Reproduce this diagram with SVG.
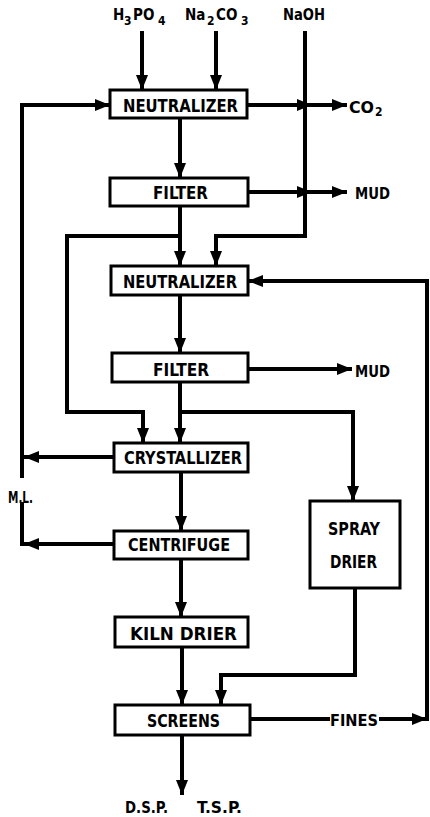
<svg xmlns="http://www.w3.org/2000/svg" width="430" height="817" viewBox="0 0 430 817">
<style>
.box{fill:#fff;stroke:#000;stroke-width:3}
.ln{fill:none;stroke:#000;stroke-width:4;stroke-linejoin:miter;stroke-linecap:butt}
.arr{marker-end:url(#ah)}
.t{font-family:"DejaVu Sans Condensed","DejaVu Sans",sans-serif;font-weight:bold;font-size:18px;fill:#000}
.s{font-family:"DejaVu Sans Condensed","DejaVu Sans",sans-serif;font-weight:bold;font-size:15px;fill:#000}
.sub{font-size:12px}
</style>
<defs>
<marker id="ah" markerUnits="userSpaceOnUse" markerWidth="16" markerHeight="14" refX="15" refY="6" orient="auto" viewBox="0 0 16 12">
<path d="M0,0 L15,6 L0,12 Z" fill="#000"/>
</marker>
</defs>
<g id="connectors">
<path class="ln arr" d="M142,31 L142,90"/>
<path class="ln arr" d="M216,31 L216,90"/>
<path class="ln arr" d="M305,31 L305,236 L216,236 L216,266"/>
<path class="ln arr" d="M247,105 L312,105"/>
<path class="ln arr" d="M312,105 L347,105"/>
<path class="ln arr" d="M180,118 L180,178"/>
<path class="ln arr" d="M248,192 L312,192"/>
<path class="ln arr" d="M312,192 L347,192"/>
<path class="ln arr" d="M180,206 L180,266"/>
<path class="ln arr" d="M180,236 L67,236 L67,412 L143,412 L143,443"/>
<path class="ln arr" d="M180,295 L180,353"/>
<path class="ln arr" d="M248,369 L352,369"/>
<path class="ln arr" d="M180,382 L180,443"/>
<path class="ln arr" d="M180,412 L353,412 L353,501"/>
<path class="ln arr" d="M114,457 L24,457"/>
<path class="ln arr" d="M22,478 L22,105 L110,105"/>
<path class="ln arr" d="M114,544 L24,544"/>
<path class="ln" d="M22,546 L22,502"/>
<path class="ln arr" d="M181,472 L181,531"/>
<path class="ln arr" d="M181,559 L181,617"/>
<path class="ln arr" d="M182,647 L182,705"/>
<path class="ln arr" d="M355,588 L355,675 L221,675 L221,705"/>
<path class="ln arr" d="M182,735 L182,795"/>
<path class="ln" d="M250,719 L330,719"/>
<path class="ln arr" d="M379,719 L427,719"/>
<path class="ln arr" d="M427,721 L427,281 L248,281"/>
</g>
<g id="feed-labels">
<text class="s" y="20"><tspan x="113">H</tspan><tspan class="sub" x="124" y="25">3</tspan><tspan x="133" y="20">PO</tspan><tspan class="sub" x="158" y="25">4</tspan></text>
<text class="s" y="20"><tspan x="185">Na</tspan><tspan class="sub" x="207" y="25">2</tspan><tspan x="216" y="20">CO</tspan><tspan class="sub" x="241" y="25">3</tspan></text>
<text class="s" x="283" y="20" textLength="42" lengthAdjust="spacingAndGlyphs">NaOH</text>
<text class="s" y="113"><tspan x="349" textLength="25" lengthAdjust="spacingAndGlyphs">CO</tspan><tspan class="sub" x="375" y="116">2</tspan></text>
<text class="s" x="355" y="199" textLength="35" lengthAdjust="spacingAndGlyphs">MUD</text>
<text class="s" x="355" y="377" textLength="35" lengthAdjust="spacingAndGlyphs">MUD</text>
<text class="s" x="8" y="503" font-size="13" textLength="25" lengthAdjust="spacingAndGlyphs">M.L.</text>
<text class="s" x="330" y="726" textLength="48" lengthAdjust="spacingAndGlyphs">FINES</text>
<text class="s" x="125" y="813" textLength="43" lengthAdjust="spacingAndGlyphs">D.S.P.</text>
<text class="s" x="197" y="813" textLength="45" lengthAdjust="spacingAndGlyphs">T.S.P.</text>
</g>
<g id="neutralizer1">
<rect class="box" x="110" y="90" width="137" height="28"/>
<text class="t" x="123" y="112" textLength="115" lengthAdjust="spacingAndGlyphs">NEUTRALIZER</text>
</g>
<g id="filter1">
<rect class="box" x="110" y="178" width="138" height="28"/>
<text class="t" x="153" y="199" textLength="55" lengthAdjust="spacingAndGlyphs">FILTER</text>
</g>
<g id="neutralizer2">
<rect class="box" x="111" y="266" width="137" height="29"/>
<text class="t" x="123" y="288" textLength="114" lengthAdjust="spacingAndGlyphs">NEUTRALIZER</text>
</g>
<g id="filter2">
<rect class="box" x="112" y="353" width="136" height="29"/>
<text class="t" x="153" y="376" textLength="56" lengthAdjust="spacingAndGlyphs">FILTER</text>
</g>
<g id="crystallizer">
<rect class="box" x="114" y="443" width="134" height="29"/>
<text class="t" x="124" y="464" textLength="118" lengthAdjust="spacingAndGlyphs">CRYSTALLIZER</text>
</g>
<g id="centrifuge">
<rect class="box" x="114" y="531" width="134" height="28"/>
<text class="t" x="128" y="551" textLength="102" lengthAdjust="spacingAndGlyphs">CENTRIFUGE</text>
</g>
<g id="kiln-drier">
<rect class="box" x="115" y="617" width="133" height="30"/>
<text class="t" x="130" y="640" textLength="107" lengthAdjust="spacingAndGlyphs">KILN  DRIER</text>
</g>
<g id="spray-drier">
<rect class="box" x="310" y="501" width="90" height="87"/>
<text class="t" x="328" y="535" textLength="52" lengthAdjust="spacingAndGlyphs">SPRAY</text>
<text class="t" x="330" y="568" textLength="47" lengthAdjust="spacingAndGlyphs">DRIER</text>
</g>
<g id="screens">
<rect class="box" x="115" y="705" width="135" height="30"/>
<text class="t" x="147" y="727" textLength="73" lengthAdjust="spacingAndGlyphs">SCREENS</text>
</g>
</svg>
